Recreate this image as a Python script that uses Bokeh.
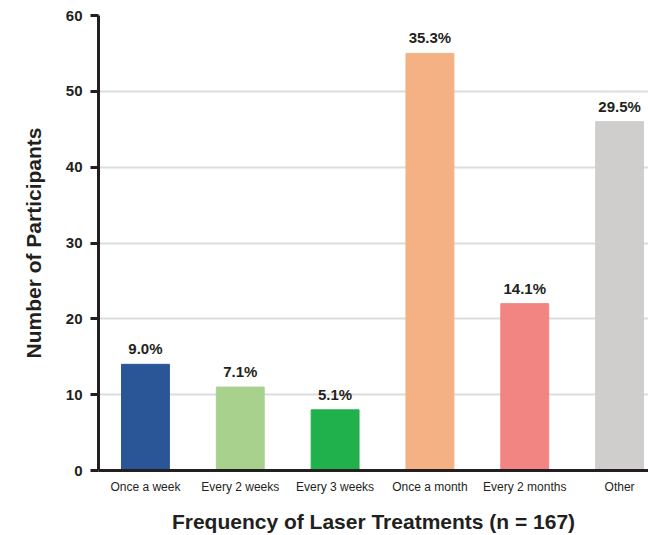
from bokeh.plotting import figure
from bokeh.models import ColumnDataSource, FixedTicker, Range1d, LabelSet
from bokeh.core.properties import value
from bokeh.embed import file_html
from bokeh.resources import INLINE

categories = ["Once a week", "Every 2 weeks", "Every 3 weeks",
              "Once a month", "Every 2 months", "Other"]
participants = [14, 11, 8, 55, 22, 46]
percent_labels = ["9.0%", "7.1%", "5.1%", "35.3%", "14.1%", "29.5%"]
bar_colors = ["#2a5597", "#a9d18e", "#21b14c", "#f4b183", "#f28482", "#d0cecd"]
y_ticks = [0, 10, 20, 30, 40, 50, 60]

positions = list(range(len(categories)))
source = ColumnDataSource(dict(
    x=positions, top=participants, color=bar_colors, label=percent_labels,
))

p = figure(width=648, height=535, output_backend="svg", toolbar_location=None,
           x_range=Range1d(-0.495, 5.305), y_range=Range1d(0, 60),
           min_border_left=98, min_border_right=0, min_border_top=15,
           min_border_bottom=64)
p.outline_line_color = None
p.background_fill_color = "white"
p.border_fill_color = "white"

p.vbar(x="x", top="top", width=0.505, bottom=0, color="color", source=source)

ink = "#231f20"
font = "Liberation Sans"

labels = LabelSet(x="x", y="top", text="label", source=source,
                  text_align="center", text_baseline="bottom", y_offset=7,
                  text_font=value(font), text_font_style="bold",
                  text_font_size="15px", text_color=ink)
p.add_layout(labels)

# x axis
p.xaxis.ticker = FixedTicker(ticks=positions)
p.xaxis.major_label_overrides = {i: c for i, c in enumerate(categories)}
p.xaxis.major_tick_line_color = None
p.xaxis.minor_tick_line_color = None
p.xaxis.axis_line_color = ink
p.xaxis.axis_line_width = 3
p.xaxis.major_label_text_font = font
p.xaxis.major_label_text_font_size = "12px"
p.xaxis.major_label_text_color = ink
p.xaxis.major_label_standoff = 3
p.xaxis.axis_label = "Frequency of Laser Treatments (n = 167)"
p.xaxis.axis_label_text_font = font
p.xaxis.axis_label_text_font_style = "bold"
p.xaxis.axis_label_text_font_size = "21px"
p.xaxis.axis_label_text_color = ink
p.xaxis.axis_label_standoff = 13

# y axis
p.yaxis.ticker = FixedTicker(ticks=y_ticks)
p.yaxis.minor_tick_line_color = None
p.yaxis.major_tick_line_color = ink
p.yaxis.major_tick_line_width = 3
p.yaxis.major_tick_out = 8
p.yaxis.major_tick_in = 0
p.yaxis.axis_line_color = ink
p.yaxis.axis_line_width = 3
p.yaxis.major_label_text_font = font
p.yaxis.major_label_text_font_style = "bold"
p.yaxis.major_label_text_font_size = "15px"
p.yaxis.major_label_text_color = ink
p.yaxis.major_label_standoff = 8
p.yaxis.axis_label = "Number of Participants"
p.yaxis.axis_label_text_font = font
p.yaxis.axis_label_text_font_style = "bold"
p.yaxis.axis_label_text_font_size = "21px"
p.yaxis.axis_label_text_color = ink
p.yaxis.axis_label_standoff = 18

p.xgrid.grid_line_color = None
p.ygrid.ticker = FixedTicker(ticks=y_ticks[1:])
p.ygrid.grid_line_color = "#dcdcdc"
p.ygrid.grid_line_width = 2

open("out.html", "w").write(file_html(p, INLINE))
